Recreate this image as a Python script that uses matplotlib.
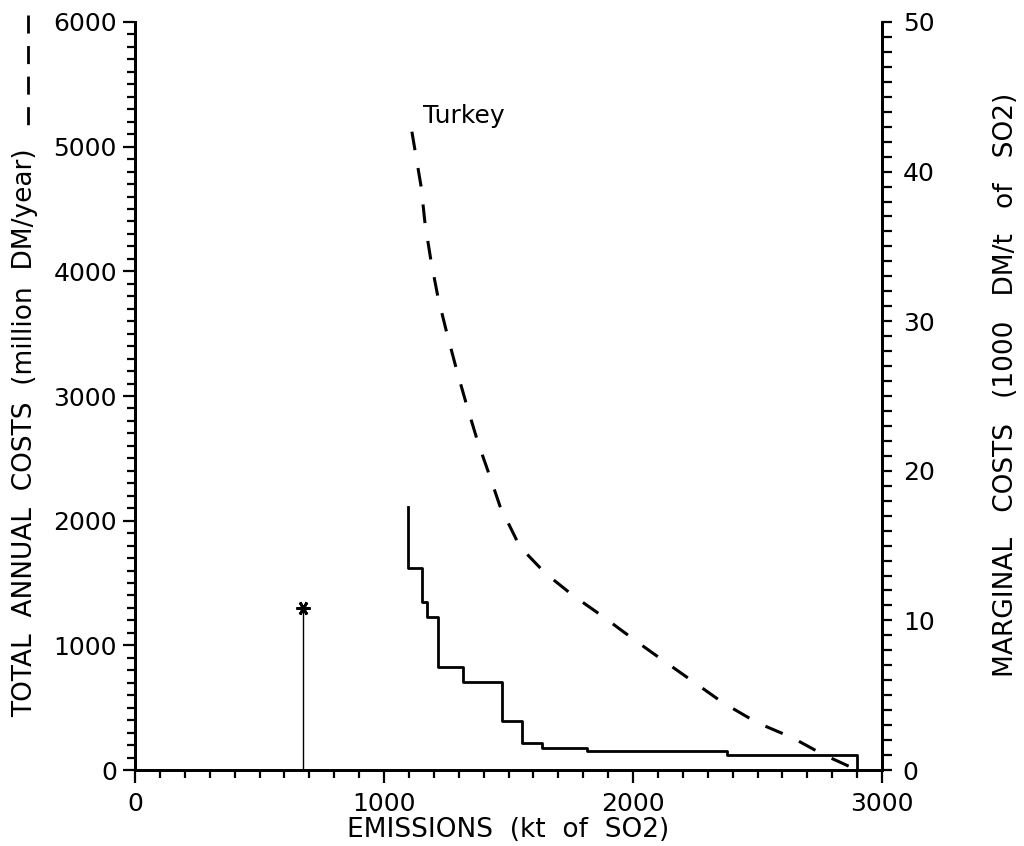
import matplotlib
matplotlib.use("Agg")
import matplotlib.pyplot as plt
from matplotlib.ticker import MultipleLocator
from matplotlib.lines import Line2D

plt.rcParams['font.family'] = ['DejaVu Sans']
plt.rcParams['lines.scale_dashes'] = False

# ---- data ----
# total annual costs (million DM/year), dashed, left axis
total_emis = [1112, 1149, 1165, 1189, 1217, 1253, 1293, 1333, 1377, 1426, 1466,
              1546, 1647, 1759, 1880, 2008, 2120, 2241, 2361, 2498, 2639, 2763, 2900]
total_cost = [5120, 4680, 4380, 4080, 3790, 3500, 3200, 2920, 2630, 2350, 2115,
              1790, 1580, 1400, 1230, 1040, 880, 710, 540, 380, 260, 125, 0]

# marginal costs (1000 DM/t of SO2), solid step, right axis
marg_emis = [1096, 1096, 1153, 1173, 1217, 1317, 1474, 1554, 1635, 1815, 2377, 2900]
marg_cost = [17.6, 13.5, 11.2, 10.2, 6.9, 5.9, 3.3, 1.8, 1.5, 1.3, 1.0, 0.0]

# single marked point (asterisk with stem)
star_emis = [675]
star_cost = [1300]

country = "Turkey"
xticks = [0, 1000, 2000, 3000]
yticks_left = [0, 1000, 2000, 3000, 4000, 5000, 6000]
yticks_right = [0, 10, 20, 30, 40, 50]

W, H = 1024, 846
fig = plt.figure(figsize=(W / 100, H / 100), dpi=100)
L, R, T, B = 135, 882, 22, 770
ax = fig.add_axes([L / W, (H - B) / H, (R - L) / W, (B - T) / H])
ax2 = ax.twinx()

FS = 18
LFS = 19
for a in (ax, ax2):
    a.spines['top'].set_visible(False)
    for s in a.spines.values():
        s.set_linewidth(2.0)
    a.patch.set_visible(False)

ax.set_xlim(0, 3000)
ax.set_ylim(0, 6000)
ax2.set_ylim(0, 50)

ax.set_xticks(xticks)
ax.set_yticks(yticks_left)
ax2.set_yticks(yticks_right)
ax.xaxis.set_minor_locator(MultipleLocator(100))
ax.yaxis.set_minor_locator(MultipleLocator(100))
ax2.yaxis.set_minor_locator(MultipleLocator(1))

ax.tick_params(axis='x', which='major', direction='out', length=9, width=1.6, pad=7, labelsize=FS)
ax.tick_params(axis='x', which='minor', direction='out', length=6, width=1.6)
ax.tick_params(axis='y', which='major', direction='out', length=9, width=1.6, pad=4, labelsize=FS)
ax.tick_params(axis='y', which='minor', direction='out', length=6, width=1.6)
ax2.tick_params(axis='y', which='major', direction='out', length=7, width=1.6, pad=8, labelsize=FS)
ax2.tick_params(axis='y', which='minor', direction='out', length=7, width=1.6)

# curves
ax.plot(total_emis, total_cost, color='black', lw=2.2, dashes=(13.5, 13), solid_capstyle='butt')
ax2.plot(marg_emis, marg_cost, color='black', lw=2.0, drawstyle='steps-post')
ax.vlines(star_emis, 0, star_cost, color='black', lw=1.0)
ax.plot(star_emis, star_cost, linestyle='none', marker=(6, 2, 90), markersize=10,
        markeredgewidth=2.0, color='black')

ax.annotate(country, xy=(total_emis[0], total_cost[0]), xytext=(8, 6),
            textcoords='offset points', fontsize=FS, va='baseline', ha='left')

# axis labels
ax.set_xlabel("EMISSIONS  (kt  of  SO2)", fontsize=LFS, va='center')
ax.xaxis.set_label_coords((508 - L) / (R - L), -(830 - B) / (B - T))

ax.set_ylabel("TOTAL  ANNUAL  COSTS  (million  DM/year)", fontsize=LFS, va='center')
ax.yaxis.set_label_coords(-(L - 25) / (R - L), (B - 433) / (B - T))

ax2.set_ylabel("MARGINAL   COSTS   (1000   DM/t   of   SO2)", fontsize=LFS, va='center',
               rotation=90)
ax2.yaxis.set_label_coords((1006 - L) / (R - L), (B - 385) / (B - T))

# dashed key next to the left-axis label
fig.add_artist(Line2D([28 / W, 28 / W], [(H - 15) / H, (H - 126) / H],
                      transform=fig.transFigure, color='black', lw=2.0,
                      dashes=(13, 9), solid_capstyle='butt'))

fig.savefig("out.png", dpi=100)
